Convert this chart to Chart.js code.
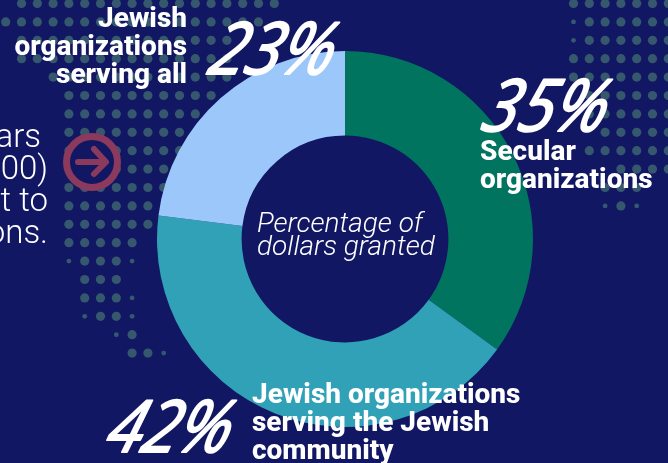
<!DOCTYPE html>
<html>
<head>
<meta charset="utf-8">
<style>
  html, body { margin: 0; padding: 0; background: #121763; overflow: hidden; }
  canvas { display: block; }
</style>
<script src="https://cdn.jsdelivr.net/npm/chart.js@4"></script>
</head>
<body>
<canvas id="chart" width="668" height="463"></canvas>
<script>
const categories = ['Secular organizations', 'Jewish organizations serving the Jewish community', 'Jewish organizations serving all'];
const values = [35, 42, 23];
const sliceColors = ['#00745f', '#31a1b8', '#9cc7fb'];
const labelLines = [['Secular', 'organizations'], ['Jewish organizations', 'serving the Jewish', 'community'], ['Jewish', 'organizations', 'serving all']];
const centerLines = ['Percentage of', 'dollars granted'];
const sideLines = ['ars', '00)', 't to', 'ons.'];

const BG = '#121763';
const DOT = '#35586e';
const ARROW = '#8b3a5e';

// background dot map, rows of [first column, last column]
const leftRows = [[1,17],[0,16],[1,14],[1,14],[3,14],[4,13],[4,12],[4,11],[4,11],[4,10],[4,10],[4,9],[4,9],[4,8],[5,7],[5,7],[5,7],[6,7],[8,8],[8,9]];
const rightRows = [[0,6],[1,6],[1,6],[0,6],[0,6],[1,6],[1,6],[2,6],[1,6],[3,6],[2,4],[3,3]];
// dots cut by the map edge, drawn small: [column, row]
const leftSlivers = [[4,14],[8,14],[8,16],[5,17],[8,17],[7,18],[10,19]];
const rightSlivers = [[0,1],[0,2],[2,11],[4,11]];

const backdrop = {
    id: 'backdrop',
    beforeDraw(chart) {
        const ctx = chart.ctx;
        ctx.save();
        ctx.fillStyle = BG;
        ctx.fillRect(0, 0, chart.width, chart.height);
        ctx.fillStyle = DOT;
        const dot = (x, y, r) => {
            ctx.beginPath();
            ctx.arc(x, y, r, 0, Math.PI * 2);
            ctx.fill();
        };
        leftRows.forEach((r, row) => {
            for (let i = r[0]; i <= r[1]; i++) dot(5.7 + 15.8 * i, 3.5 + 18.4 * row, 4.6);
        });
        rightRows.forEach((r, row) => {
            for (let i = r[0]; i <= r[1]; i++) dot(573.5 + 15.8 * i, 3.5 + 18.4 * row, 4.6);
        });
        leftSlivers.forEach(s => dot(5.7 + 15.8 * s[0], 3.5 + 18.4 * s[1], 2.4));
        rightSlivers.forEach(s => dot(573.5 + 15.8 * s[0], 3.5 + 18.4 * s[1], 2.4));
        // arrow badge
        ctx.fillStyle = BG;
        ctx.strokeStyle = ARROW;
        ctx.lineWidth = 7;
        ctx.beginPath();
        ctx.arc(92, 162, 25.5, 0, Math.PI * 2);
        ctx.fill();
        ctx.stroke();
        ctx.lineWidth = 6;
        ctx.lineCap = 'round';
        ctx.lineJoin = 'round';
        ctx.beginPath();
        ctx.moveTo(78, 162);
        ctx.lineTo(105, 162);
        ctx.moveTo(94, 149);
        ctx.lineTo(106, 162);
        ctx.lineTo(94, 174);
        ctx.stroke();
        ctx.restore();
    }
};

const annotations = {
    id: 'annotations',
    afterDraw(chart) {
        const ctx = chart.ctx;
        ctx.save();
        ctx.fillStyle = '#ffffff';
        ctx.strokeStyle = '#ffffff';
        ctx.textBaseline = 'alphabetic';

        // category labels
        ctx.font = '800 28px Roboto';
        ctx.textAlign = 'left';
        labelLines[0].forEach((t, i) => ctx.fillText(t, 480, 160 + 28 * i));
        labelLines[1].forEach((t, i) => ctx.fillText(t, 252, 403 + 28 * i));
        ctx.textAlign = 'right';
        labelLines[2].forEach((t, i) => ctx.fillText(t, 187, 27 + 28 * i));

        // centre caption
        ctx.font = 'italic 300 28px Roboto';
        ctx.textAlign = 'left';
        centerLines.forEach((t, i) => ctx.fillText(t, 257, 232 + 23 * i));

        // cut-off text at the left edge
        ctx.font = '300 33px Roboto';
        ctx.textAlign = 'right';
        sideLines.forEach((t, i) => ctx.fillText(t, i === 0 ? 41 : 48, 147 + 32 * i));

        // big percentages, slanted like the hand lettering
        const big = [[477, 131], [101, 452], [204, 74]];
        ctx.font = 'italic 500 72px "Open Sans"';
        ctx.textAlign = 'left';
        ctx.lineWidth = 2;
        ctx.lineJoin = 'round';
        values.forEach((v, i) => {
            ctx.save();
            ctx.transform(0.9, 0, -0.3, 1, big[i][0] + 2, big[i][1]);
            ctx.fillText(v + '%', 0, 0);
            ctx.strokeText(v + '%', 0, 0);
            ctx.restore();
        });
        ctx.restore();
    }
};

new Chart(document.getElementById('chart').getContext('2d'), {
    type: 'doughnut',
    data: {
        labels: categories,
        datasets: [{ data: values, backgroundColor: sliceColors, borderWidth: 0 }]
    },
    options: {
        responsive: false,
        animation: false,
        cutout: '55%',
        layout: { padding: { top: 51, bottom: 36, left: 157, right: 135 } },
        plugins: { legend: { display: false }, tooltip: { enabled: false } }
    },
    plugins: [backdrop, annotations]
});
</script>
</body>
</html>
